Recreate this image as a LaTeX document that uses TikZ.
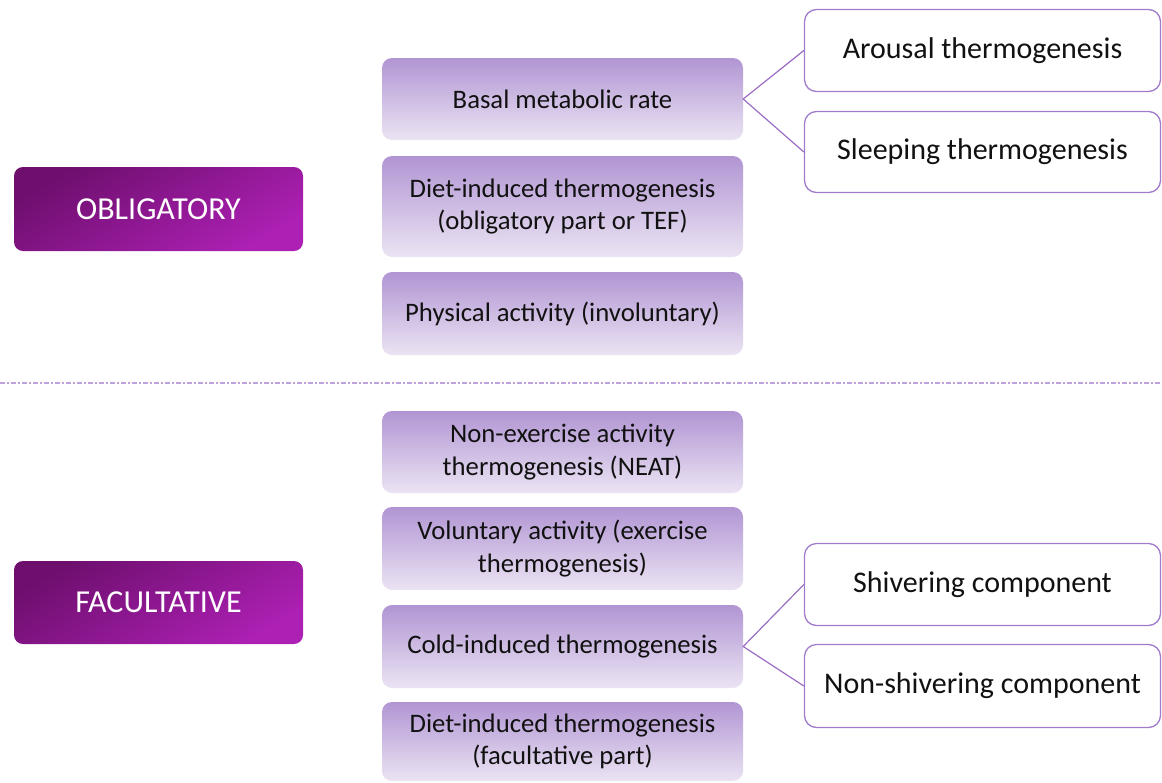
\documentclass[tikz,border=0pt]{standalone}
\usepackage{fontspec}
\setmainfont{Carlito}
\definecolor{catA}{HTML}{6E0F6E}
\definecolor{catB}{HTML}{AD20B4}
\definecolor{midA}{HTML}{B195D3}
\definecolor{midB}{HTML}{EBE4F3}
\definecolor{subB}{HTML}{A07CCB}
\definecolor{lnk}{HTML}{9A6CC6}
\definecolor{sep}{HTML}{BEA2DC}
\definecolor{txt}{HTML}{111111}
\begin{document}
\begin{tikzpicture}[x=1pt,y=-1pt,
  catbox/.style={rounded corners=9pt, top color=catA, bottom color=catB, shading angle=30,
    text=white, font=\fontsize{32}{38}\selectfont, minimum width=289pt, inner sep=0pt, draw=none},
  midbox/.style={rounded corners=10pt, top color=midA, bottom color=midB,
    text=txt, font=\fontsize{26.7}{32.5}\selectfont, align=center, minimum width=361pt, inner sep=0pt, draw=none},
  subbox/.style={rounded corners=12pt, draw=subB, line width=1.3pt, fill=white,
    text=txt, font=\fontsize{30}{36}\selectfont, minimum width=356pt, inner sep=0pt},
  link/.style={draw=lnk, line width=1.2pt},
  sepline/.style={draw=sep, line width=1.6pt, dash pattern=on 5pt off 2pt on 2pt off 2pt}
]
\useasboundingbox (0,0) rectangle (1162,782);

% category boxes
\node[catbox, minimum height=84pt] (obl) at (158.5,209) {OBLIGATORY};
\node[catbox, minimum height=83pt] (fac) at (158.5,602.5) {FACULTATIVE};

% middle boxes
\node[midbox, minimum height=82pt] (bmr) at (562.5,99) {Basal metabolic rate};
\node[midbox, minimum height=101pt] (dit) at (562.5,206.5) {Diet-induced thermogenesis\\(obligatory part or TEF)};
\node[midbox, minimum height=83pt] (phy) at (562.5,313.5) {Physical activity (involuntary)};
\node[midbox, minimum height=82pt] (neat) at (562.5,452) {Non-exercise activity\\thermogenesis (NEAT)};
\node[midbox, minimum height=83pt] (vol) at (562.5,548.5) {Voluntary activity (exercise\\thermogenesis)};
\node[midbox, minimum height=83pt] (cold) at (562.5,646.5) {Cold-induced thermogenesis};
\node[midbox, minimum height=79pt] (dif) at (562.5,741.5) {Diet-induced thermogenesis\\(facultative part)};

% sub boxes
\node[subbox, minimum height=82pt] (aro) at (982.5,50.5) {Arousal thermogenesis};
\node[subbox, minimum height=81pt] (slp) at (982.5,152) {Sleeping thermogenesis};
\node[subbox, minimum height=82pt] (shv) at (982.5,584.5) {Shivering component};
\node[subbox, minimum height=83pt] (nsh) at (982.5,686) {Non-shivering component};

% connectors
\draw[link] (aro.west) -- (bmr.east) -- (slp.west);
\draw[link] (shv.west) -- (cold.east) -- (nsh.west);

% separator
\coordinate (sepL) at (0,383);
\coordinate (sepR) at (1162,383);
\draw[sepline] (sepL) -- (sepR);
\end{tikzpicture}
\end{document}
